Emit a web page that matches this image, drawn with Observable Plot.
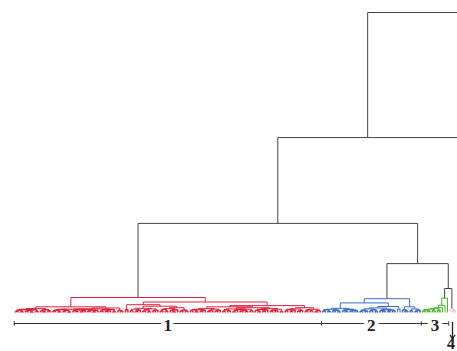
<!DOCTYPE html>
<html><head><meta charset="utf-8">
<script src="https://cdn.jsdelivr.net/npm/d3@7"></script>
<script src="https://cdn.jsdelivr.net/npm/@observablehq/plot@0.6"></script>
<style>
html,body{margin:0;padding:0;background:#fff;overflow:hidden;}
svg{overflow:hidden;}
</style></head>
<body><div id="chart"></div>
<script>
// Leaf groups, left to right ("a","b" are outgroup leaves at/over the right edge)
const groupNames = ["1", "2", "3", "4", "a", "b"];
// Merge heights between adjacent leaves inside each group
const redGaps = [0.4,0.8,0.3,1.0,0.5,0.7,0.2,0.9,0.4,1.3, 0.6,0.3,0.9,0.5,1.9,0.5,0.8,0.3,1.0,0.4,
  0.7,0.2,1.1,0.6,0.4,0.9,0.3,0.6,1.0,0.5, 0.8,0.3,0.7,1.2,0.5,0.9,0.4,0.6,1.0,0.3,
  1.5,0.7,0.4,5.0,0.9,2.6,0.6,1.1,0.4,0.8, 1.4,0.5,0.9,0.3,1.2,0.6,0.8,2.1,0.5,1.0,
  0.4,1.3,0.7,0.3,0.9,1.6,0.5,0.8,0.4,3.5, 0.6,0.9,0.3,1.0,0.5,0.8,1.3,0.4,0.7,1.1,
  0.5,0.8,1.9,0.4,0.9,0.6,1.2,0.3,0.7,1.0, 0.5,0.8,0.4,1.1,0.6,1.6,0.7,0.3,1.0,0.5,
  0.9,1.3,0.4,0.8,0.6,1.1,0.3,2.3,0.6,1.0, 0.4,0.8,1.2,0.5,0.7,1.6,0.4,0.9,0.6,1.1,
  0.3,0.7];
const blueGaps = [0.5,0.9,0.4,1.1,0.6,0.8,0.3,1.4,0.7,0.4, 1.0,0.5,0.8,0.6,3.2,0.4,0.8,0.5,1.2,0.6,
  0.9,0.3,1.5,0.7,0.5,1.0,0.4,0.8,0.6,2.0, 1.1,4.6,0.9,0.5,1.9,0.6,1.2,0.4,0.8];
const greenGaps = [0.6,0.9,0.5,1.1,0.7,1.3,0.8,1.6,2.4,4.8];
const group4Gaps = [1.2,0.8];
const outAGaps = [];
const outBGaps = [];
// Heights at which consecutive groups join
const joinHeights = [29.7, 16.3, 8.0, 58.3, 100];
const groupColors = ["#e0233f", "#3c6cc6", "#47b52e", "#eec2c9", "#444", "#444"];
const bracketGroups = ["1", "2", "3"];
const arrowGroups = ["4"];

// ---- build leaves & dendrogram ----
const groupGaps = [redGaps, blueGaps, greenGaps, group4Gaps, outAGaps, outBGaps];
const leaves = [], gaps = [];
groupGaps.forEach((g, gi) => {
  for (let k = 0; k <= g.length; k++) {
    if (leaves.length > 0) gaps.push(k === 0 ? joinHeights[gi - 1] : g[k - 1]);
    leaves.push(gi);
  }
});
function build(a, b) {
  if (a === b) return {x: a, h: 0, g: leaves[a], leaf: true};
  let m = a;
  for (let j = a; j < b; j++) if (gaps[j] > gaps[m]) m = j;
  const L = build(a, m), R = build(m + 1, b);
  return {x: (L.x + R.x) / 2, h: gaps[m], g: L.g === R.g ? L.g : -1, L, R};
}
const root = build(0, leaves.length - 1);
const segs = [];
(function walk(n) {
  if (n.leaf) return;
  const c = n.g >= 0 ? groupColors[n.g] : "#444";
  const low = n.g >= 0 && n.h <= 1.0;
  segs.push({x1: n.L.x, x2: n.R.x, y1: n.h, y2: n.h, c, low});
  segs.push({x1: n.L.x, x2: n.L.x, y1: n.L.h, y2: n.h, c, low});
  segs.push({x1: n.R.x, x2: n.R.x, y1: n.R.h, y2: n.h, c, low});
  walk(n.L); walk(n.R);
})(root);

const extents = groupNames.map((name, gi) => {
  const idx = leaves.map((g, i) => g === gi ? i : -1).filter(i => i >= 0);
  const a = idx[0], b = idx[idx.length - 1];
  return {name, start: a - 0.5, end: b + 0.5, mid: (a + b) / 2};
});
const bracketed = extents.filter(e => bracketGroups.includes(e.name));
const arrowed = extents.filter(e => arrowGroups.includes(e.name));
const boundaries = Array.from(new Set(bracketed.flatMap(e => [e.start, e.end])));

const vbar = {draw(ctx, size) { const r = Math.sqrt(size / Math.PI); ctx.moveTo(0, -r); ctx.lineTo(0, r); }};
const arrowSym = {draw(ctx, size) {
  const r = Math.sqrt(size / Math.PI);
  ctx.moveTo(0, -r); ctx.lineTo(0, r);
  ctx.moveTo(-r * 0.3, r * 0.5); ctx.lineTo(0, r); ctx.lineTo(r * 0.3, r * 0.5);
}};
const labelFont = {fontFamily: "Liberation Serif, Times New Roman, serif", fontWeight: "bold", fontSize: 17};

const chart = Plot.plot({
  width: 457, height: 351,
  marginLeft: 15, marginRight: 0, marginTop: 12, marginBottom: 39,
  x: {domain: [0, 177], axis: null},
  y: {domain: [0, 100], axis: null},
  color: {type: "identity"},
  marks: [
    Plot.link(segs.filter(s => !s.low), {x1: "x1", y1: "y1", x2: "x2", y2: "y2", stroke: "c", strokeWidth: 1}),
    Plot.link(segs.filter(s => s.low), {x1: "x1", y1: "y1", x2: "x2", y2: "y2", stroke: "c", strokeWidth: 1.6}),
    Plot.ruleY(bracketed, {y: 0, x1: "start", x2: "end", dy: 11, stroke: "#333", strokeWidth: 1}),
    Plot.dot(boundaries, {x: d => d, y: 0, dy: 11, r: 2.2, symbol: vbar, fill: "none", stroke: "#333", strokeWidth: 1}),
    Plot.text(bracketed, {x: "mid", y: 0, dy: 13, text: "name", ...labelFont, fill: "white", stroke: "white", strokeWidth: 8}),
    Plot.text(bracketed, {x: "mid", y: 0, dy: 13, text: "name", ...labelFont, fill: "#222"}),
    Plot.dot(arrowed, {x: "mid", y: 0, dy: 18, r: 8.5, symbol: arrowSym, fill: "none", stroke: "#222", strokeWidth: 1.3}),
    Plot.text(arrowed, {x: "mid", y: 0, dy: 31, dx: -1.5, text: "name", ...labelFont, fontSize: 16, fill: "#222"})
  ]
});
document.getElementById("chart").appendChild(chart);
</script>
</body></html>
